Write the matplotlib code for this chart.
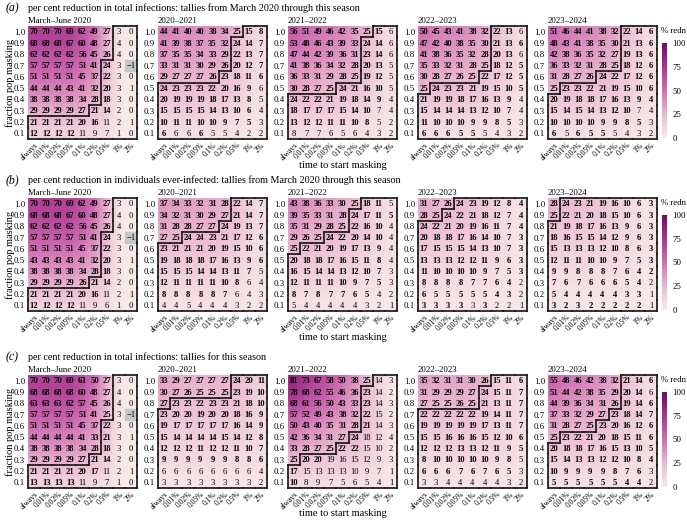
import numpy as np
import matplotlib
matplotlib.use('Agg')
import matplotlib.pyplot as plt
from matplotlib.colors import LinearSegmentedColormap, Normalize
from matplotlib.collections import LineCollection
from matplotlib.patches import Rectangle
import matplotlib.cm as cm

plt.rcParams['font.family'] = ['Liberation Serif', 'DejaVu Serif']

seasons = ["March\u2013June 2020", "2020\u20132021", "2021\u20132022", "2022\u20132023", "2023\u20132024"]
start_times = ["always", "0.01%", "0.02%", "0.05%", "0.1%", "0.2%", "0.5%", "1%", "2%"]
fractions = ["1.0", "0.9", "0.8", "0.7", "0.6", "0.5", "0.4", "0.3", "0.2", "0.1"]
row_letters = ["(a)", "(b)", "(c)"]
row_titles = [
    "per cent reduction in total infections: tallies from March 2020 through this season",
    "per cent reduction in individuals ever-infected: tallies from March 2020 through this season",
    "per cent reduction in total infections: tallies for this season",
]
threshold = 25

# ---- row (a) ----
a_2020 = [[70, 70, 70, 69, 62, 49, 27, 3, 0],
          [68, 68, 68, 67, 60, 48, 27, 4, 0],
          [62, 62, 62, 62, 56, 45, 26, 4, 0],
          [57, 57, 57, 57, 51, 41, 24, 3, -1],
          [51, 51, 51, 51, 45, 37, 22, 3, 0],
          [44, 44, 44, 43, 41, 32, 20, 3, 1],
          [38, 38, 38, 38, 34, 28, 18, 3, 0],
          [29, 29, 29, 29, 27, 21, 14, 2, 0],
          [21, 21, 21, 21, 20, 16, 11, 2, 1],
          [12, 12, 12, 12, 11, 9, 7, 1, 0]]
a_2021 = [[44, 41, 40, 40, 38, 34, 25, 15, 8],
          [41, 39, 38, 37, 35, 32, 24, 14, 7],
          [37, 35, 35, 34, 33, 29, 22, 13, 7],
          [33, 31, 31, 30, 29, 26, 20, 12, 7],
          [29, 27, 27, 27, 26, 23, 18, 11, 6],
          [24, 23, 23, 23, 22, 20, 16, 9, 6],
          [20, 19, 19, 19, 18, 17, 13, 8, 5],
          [15, 15, 15, 15, 14, 13, 10, 6, 4],
          [10, 11, 11, 10, 10, 9, 7, 5, 3],
          [6, 6, 6, 6, 5, 5, 4, 2, 2]]
a_2022 = [[56, 51, 49, 46, 42, 35, 25, 15, 6],
          [53, 48, 46, 43, 39, 33, 24, 14, 6],
          [47, 44, 42, 39, 36, 31, 23, 14, 6],
          [41, 38, 36, 34, 32, 28, 20, 13, 5],
          [36, 33, 31, 29, 28, 25, 19, 12, 5],
          [30, 28, 27, 25, 24, 21, 16, 10, 5],
          [24, 22, 22, 21, 19, 18, 14, 9, 4],
          [18, 17, 17, 17, 15, 14, 10, 7, 4],
          [13, 12, 12, 11, 11, 10, 8, 5, 2],
          [8, 7, 7, 6, 5, 6, 4, 3, 2]]
a_2023 = [[50, 45, 43, 41, 38, 32, 22, 13, 6],
          [47, 42, 40, 38, 35, 30, 21, 13, 6],
          [41, 38, 36, 35, 32, 28, 20, 13, 6],
          [35, 33, 32, 31, 28, 25, 18, 12, 5],
          [30, 28, 27, 26, 25, 22, 17, 12, 5],
          [25, 24, 23, 23, 21, 19, 15, 10, 5],
          [21, 19, 19, 18, 17, 16, 13, 9, 4],
          [15, 14, 14, 14, 13, 12, 10, 7, 4],
          [11, 10, 10, 10, 9, 9, 8, 5, 3],
          [6, 6, 6, 5, 5, 5, 4, 3, 2]]
a_2024 = [[51, 46, 44, 41, 38, 32, 22, 14, 6],
          [48, 43, 41, 38, 35, 30, 21, 13, 6],
          [42, 38, 36, 35, 32, 27, 19, 13, 6],
          [36, 33, 32, 31, 28, 25, 18, 12, 6],
          [31, 28, 27, 26, 24, 22, 17, 12, 6],
          [25, 23, 23, 22, 21, 19, 15, 10, 6],
          [20, 19, 18, 18, 17, 16, 13, 9, 4],
          [15, 14, 15, 14, 13, 12, 10, 7, 4],
          [10, 10, 10, 10, 9, 9, 8, 5, 3],
          [6, 5, 6, 5, 5, 5, 4, 3, 2]]

# ---- row (b) ----
b_2020 = [[70, 70, 70, 69, 62, 49, 27, 3, 0],
          [68, 68, 68, 67, 60, 48, 27, 4, 0],
          [62, 62, 62, 62, 56, 45, 26, 4, 0],
          [57, 57, 57, 57, 51, 41, 24, 3, -1],
          [51, 51, 51, 51, 45, 37, 22, 3, 0],
          [43, 43, 43, 43, 41, 32, 20, 3, 1],
          [38, 38, 38, 38, 34, 28, 18, 3, 0],
          [29, 29, 29, 29, 26, 21, 14, 2, 0],
          [21, 21, 21, 21, 20, 16, 11, 2, 1],
          [12, 12, 12, 12, 11, 9, 6, 1, 0]]
b_2021 = [[37, 34, 33, 32, 31, 28, 22, 14, 7],
          [34, 32, 31, 30, 29, 27, 21, 14, 7],
          [31, 28, 28, 27, 27, 24, 19, 13, 7],
          [27, 25, 24, 24, 23, 21, 17, 12, 6],
          [23, 21, 21, 21, 20, 19, 15, 10, 6],
          [19, 18, 18, 18, 17, 16, 13, 9, 6],
          [15, 15, 15, 14, 14, 13, 11, 7, 5],
          [12, 11, 11, 11, 11, 10, 8, 6, 4],
          [8, 8, 8, 8, 8, 7, 6, 4, 3],
          [4, 4, 5, 4, 4, 4, 3, 2, 2]]
b_2022 = [[43, 38, 36, 33, 30, 25, 18, 11, 5],
          [39, 35, 33, 31, 28, 24, 17, 11, 5],
          [35, 31, 29, 28, 25, 22, 16, 10, 4],
          [29, 26, 25, 24, 22, 20, 14, 10, 4],
          [25, 22, 21, 20, 19, 17, 13, 9, 4],
          [20, 18, 18, 17, 16, 15, 11, 8, 4],
          [16, 15, 14, 14, 13, 12, 10, 7, 3],
          [12, 11, 11, 11, 10, 9, 7, 5, 3],
          [8, 7, 8, 7, 7, 6, 5, 4, 2],
          [5, 4, 4, 4, 4, 4, 3, 2, 1]]
b_2023 = [[31, 27, 26, 24, 23, 19, 12, 8, 4],
          [28, 25, 24, 22, 21, 18, 12, 7, 4],
          [24, 22, 21, 20, 19, 16, 11, 7, 4],
          [20, 18, 18, 17, 16, 14, 10, 7, 3],
          [17, 15, 15, 15, 14, 13, 10, 7, 3],
          [13, 13, 13, 12, 12, 11, 9, 6, 3],
          [11, 10, 10, 10, 10, 9, 7, 5, 3],
          [8, 8, 8, 8, 7, 7, 6, 4, 2],
          [6, 5, 5, 5, 5, 5, 4, 3, 2],
          [3, 3, 3, 3, 3, 3, 2, 2, 1]]
b_2024 = [[28, 24, 23, 21, 19, 16, 10, 6, 3],
          [25, 22, 21, 20, 18, 15, 10, 6, 3],
          [21, 19, 18, 17, 16, 13, 9, 6, 3],
          [18, 16, 15, 15, 14, 12, 9, 6, 3],
          [15, 13, 13, 13, 12, 10, 8, 6, 3],
          [12, 11, 11, 10, 10, 9, 7, 5, 3],
          [9, 9, 8, 8, 8, 7, 6, 4, 2],
          [7, 6, 7, 6, 6, 6, 5, 4, 2],
          [5, 4, 4, 4, 4, 4, 3, 3, 1],
          [3, 2, 3, 2, 2, 2, 2, 2, 1]]

# ---- row (c) ----
c_2020 = [[70, 70, 70, 69, 63, 50, 27, 3, 0],
          [68, 68, 68, 68, 60, 48, 27, 4, 0],
          [63, 63, 63, 62, 57, 45, 26, 4, 0],
          [57, 57, 57, 57, 51, 41, 25, 3, -1],
          [51, 51, 51, 51, 45, 37, 22, 3, 0],
          [44, 44, 44, 44, 41, 33, 21, 3, 1],
          [38, 38, 38, 38, 34, 28, 18, 3, 0],
          [29, 29, 29, 29, 27, 21, 14, 2, 0],
          [21, 21, 21, 21, 20, 17, 11, 2, 1],
          [13, 13, 13, 13, 11, 9, 7, 1, 0]]
c_2021 = [[33, 29, 27, 27, 27, 27, 24, 20, 11],
          [30, 27, 26, 25, 25, 25, 23, 19, 10],
          [27, 23, 23, 22, 23, 23, 21, 18, 10],
          [23, 20, 20, 19, 20, 20, 18, 16, 9],
          [19, 17, 17, 17, 17, 17, 16, 14, 9],
          [15, 14, 14, 14, 14, 15, 14, 12, 8],
          [12, 12, 12, 11, 12, 12, 11, 10, 7],
          [9, 9, 9, 9, 9, 9, 8, 8, 6],
          [6, 6, 6, 6, 6, 6, 6, 6, 4],
          [3, 3, 3, 3, 3, 3, 3, 3, 2]]
c_2022 = [[81, 73, 67, 58, 50, 38, 25, 14, 3],
          [78, 68, 62, 55, 46, 36, 23, 14, 2],
          [68, 61, 56, 50, 43, 33, 23, 14, 3],
          [57, 52, 49, 43, 38, 32, 22, 15, 2],
          [50, 43, 40, 35, 31, 28, 21, 14, 3],
          [42, 36, 34, 31, 27, 24, 18, 12, 4],
          [33, 28, 27, 25, 22, 22, 15, 10, 2],
          [25, 20, 20, 19, 16, 15, 12, 9, 3],
          [17, 15, 13, 13, 13, 10, 9, 7, 1],
          [10, 8, 9, 7, 5, 6, 5, 4, 1]]
c_2023 = [[35, 32, 31, 31, 30, 26, 15, 11, 6],
          [31, 29, 29, 29, 27, 24, 15, 11, 7],
          [27, 25, 25, 26, 25, 21, 13, 11, 7],
          [22, 22, 22, 22, 22, 19, 14, 11, 7],
          [19, 19, 19, 19, 19, 17, 13, 11, 7],
          [15, 15, 16, 16, 16, 15, 12, 10, 6],
          [12, 12, 12, 13, 13, 12, 11, 9, 5],
          [8, 10, 10, 10, 10, 10, 9, 8, 5],
          [6, 6, 6, 7, 6, 7, 6, 5, 3],
          [3, 3, 4, 4, 4, 4, 4, 3, 2]]
c_2024 = [[55, 48, 46, 42, 38, 32, 21, 14, 6],
          [51, 44, 42, 38, 35, 29, 20, 14, 6],
          [44, 39, 36, 34, 31, 26, 19, 14, 6],
          [37, 33, 32, 29, 27, 23, 18, 14, 7],
          [31, 28, 27, 25, 23, 20, 16, 12, 6],
          [25, 23, 22, 21, 20, 18, 15, 11, 6],
          [20, 18, 18, 17, 16, 15, 13, 10, 5],
          [15, 14, 13, 13, 12, 12, 10, 8, 4],
          [10, 9, 9, 9, 9, 8, 7, 6, 3],
          [5, 5, 5, 5, 5, 5, 4, 4, 2]]

# bold flags (1 = bold text), rows top (1.0) to bottom (0.1)
bold_first = ["111111100"] * 8 + ["111111000", "111100000"]
a_2021_bold = ["111111111"] * 5 + ["111111110"] * 4 + ["100100000"]
a_2022_bold = ["111111110"] * 7 + ["111111100"] * 2 + ["000000000"]
a_2023_bold = ["111111110", "111111111", "111111110", "111111111", "111111111",
               "111111111", "111111110", "111111110", "111111110", "111110000"]
a_2024_bold = ["111111111"] * 7 + ["111111100", "111111110", "101110000"]
b_2021_bold = ["111111111"] * 6 + ["111111110", "111111100", "111111000", "000000000"]
b_2022_bold = ["111111110", "111111111"] + ["111111110"] * 6 + ["111111100", "000000000"]
b_2023_bold = ["111111111"] * 7 + ["111111110", "111111110", "111101000"]
b_2024_bold = ["111111111"] * 7 + ["111111110"] * 3
c_2021_bold = ["111111111"] * 8 + ["000000000"] * 2
c_2022_bold = ["111111100"] * 5 + ["111111000"] * 2 + ["111000000", "100000000", "100000000"]
c_2023_bold = ["111111111"] * 7 + ["111111110", "111111110", "000000000"]
c_2024_bold = ["111111111", "111111110"] + ["111111111"] * 6 + ["111111110", "111111110"]

grid_values = [[a_2020, a_2021, a_2022, a_2023, a_2024],
               [b_2020, b_2021, b_2022, b_2023, b_2024],
               [c_2020, c_2021, c_2022, c_2023, c_2024]]
grid_bold = [[bold_first, a_2021_bold, a_2022_bold, a_2023_bold, a_2024_bold],
             [bold_first, b_2021_bold, b_2022_bold, b_2023_bold, b_2024_bold],
             [bold_first, c_2021_bold, c_2022_bold, c_2023_bold, c_2024_bold]]

cmap = LinearSegmentedColormap.from_list(
    "redn", [(0.0, "#f9ebea"), (0.25, "#ebb9d0"), (0.5, "#cf70b3"),
             (0.75, "#a8358f"), (1.0, "#6a0a6b")])
norm = Normalize(0, 100)

W, H = 687, 521
fig = plt.figure(figsize=(W / 100, H / 100), dpi=100)

def fx(px):
    return px / W

def fy(py):
    return 1 - py / H

col_left = [28, 158, 288, 418, 548]
cell_w = 109
row_top = [26, 198, 375]
cell_h = 113

for r in range(3):
    top = row_top[r]
    fig.text(fx(6), fy(top - 18), row_letters[r], fontsize=8.5, style='italic',
             ha='left', va='center')
    fig.text(fx(28), fy(top - 18), row_titles[r], fontsize=7.3, ha='left', va='center')
    for c in range(5):
        vals = np.array(grid_values[r][c])
        bold = grid_bold[r][c]
        ax = fig.add_axes([fx(col_left[c]), fy(top + cell_h), fx(cell_w), cell_h / H])
        ax.imshow(np.clip(vals, 0, None), cmap=cmap, norm=norm, interpolation='bilinear',
                  aspect='auto', extent=(-0.5, 8.5, 9.5, -0.5))
        nr, nc = vals.shape
        for i in range(nr):
            for j in range(nc):
                v = vals[i, j]
                if v < 0:
                    ax.add_patch(Rectangle((j - 0.5, i - 0.5), 1, 1, color='#c4c8cc', zorder=2))
                txt = str(v) if v >= 0 else "\u2212" + str(-v)
                ax.text(j, i + 0.05, txt, ha='center', va='center', fontsize=6.2,
                        fontweight='bold' if bold[i][j] == '1' else 'normal', zorder=3)
        region = vals < threshold
        segs = []
        for i in range(nr):
            for j in range(nc):
                if not region[i, j]:
                    continue
                if i == 0 or not region[i - 1, j]:
                    segs.append([(j - 0.5, i - 0.5), (j + 0.5, i - 0.5)])
                if i == nr - 1 or not region[i + 1, j]:
                    segs.append([(j - 0.5, i + 0.5), (j + 0.5, i + 0.5)])
                if j == 0 or not region[i, j - 1]:
                    segs.append([(j - 0.5, i - 0.5), (j - 0.5, i + 0.5)])
                if j == nc - 1 or not region[i, j + 1]:
                    segs.append([(j + 0.5, i - 0.5), (j + 0.5, i + 0.5)])
        lc = LineCollection(segs, colors='#1a1a1a', linewidths=1.25, capstyle='projecting',
                            zorder=4, clip_on=False)
        ax.add_collection(lc)
        ax.set_xlim(-0.5, 8.5)
        ax.set_ylim(9.5, -0.5)
        ax.set_yticks(range(nr))
        ax.set_yticklabels(fractions, fontsize=6.3)
        ax.set_xticks(range(nc))
        ax.set_xticklabels(start_times, fontsize=5.5, rotation=45, ha='right',
                           rotation_mode='anchor')
        ax.tick_params(length=0, pad=2)
        ax.tick_params(axis='x', pad=1.5)
        for s in ax.spines.values():
            s.set_visible(False)
        fig.text(fx(col_left[c]), fy(top - 5), seasons[c], fontsize=6.3,
                 ha='left', va='center')
        if c == 0:
            fig.text(fx(10), fy(top + cell_h / 2), "fraction pop masking", fontsize=7.5,
                     rotation=90, ha='center', va='center')
        if c == 2:
            fig.text(fx(col_left[c] + cell_w / 2), fy(top + cell_h + 26),
                     "time to start masking", fontsize=7.5, ha='center', va='center')
    # colorbar
    cax = fig.add_axes([fx(662), fy(top + cell_h - 1), fx(5), 95 / H])
    sm = cm.ScalarMappable(norm=norm, cmap=cmap)
    cb = fig.colorbar(sm, cax=cax, ticks=[0, 25, 50, 75, 100])
    cb.outline.set_visible(False)
    cb.ax.tick_params(length=0, labelsize=6.3, pad=4)
    fig.text(fx(661), fy(top + 5), "% redn", fontsize=6.3, ha='left', va='center')

fig.savefig("out.png", dpi=100)
